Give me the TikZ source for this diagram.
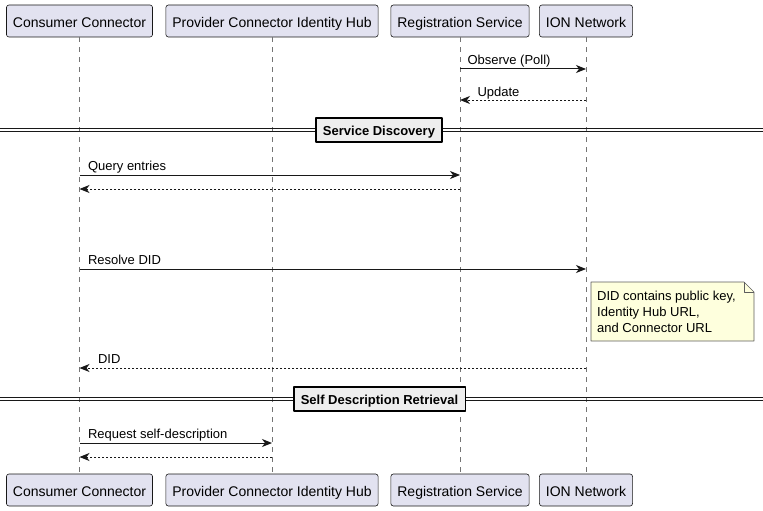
\documentclass[tikz,border=0pt]{standalone}
\usepackage{fontspec}
\setmainfont{Liberation Sans}
\usepackage{tikz}
\usetikzlibrary{arrows.meta}
\usetikzlibrary{positioning}
\definecolor{partfill}{HTML}{E2E2F0}
\definecolor{linecol}{HTML}{181818}
\definecolor{notefill}{HTML}{FEFFDD}
\definecolor{divfill}{HTML}{EEEEEE}

\begin{document}
\begin{tikzpicture}[line join=round,x=1pt,y=-1pt,
  >={Stealth[length=10pt,width=8pt,inset=3pt]},
  part/.style={draw=linecol,line width=0.6pt,fill=partfill,rounded corners=2.5pt,
    minimum height=32pt,inner xsep=6.5pt,text height=12.5pt,text depth=0pt,
    font=\fontsize{14}{16}\selectfont},
  lifeline/.style={draw=linecol!60,line width=0.6pt,dash pattern=on 5pt off 5pt},
  msg/.style={->,draw=linecol,line width=1pt},
  reply/.style={->,draw=linecol,line width=1pt,dash pattern=on 2pt off 2pt},
  msglabel/.style={anchor=base west,inner sep=0pt,font=\fontsize{13}{15}\selectfont},
  divline/.style={draw=linecol,line width=1pt},
  divbox/.style={draw=black,line width=1.5pt,fill=divfill,minimum height=24pt,
    inner xsep=7pt,text height=10.5pt,text depth=0.5pt,
    font=\fontsize{13}{15}\selectfont\bfseries}]
\useasboundingbox (0,0) rectangle (763,511);

% participants, top and bottom
\node[part] (cc)  at (79.5,21) {Consumer Connector};
\node[part] (pch) at (272,21)  {Provider Connector Identity Hub};
\node[part] (rs)  at (460,21)  {Registration Service};
\node[part] (ion) at (586,21)  {ION Network};
\node[part] (ccb)  at (79.5,490) {Consumer Connector};
\node[part] (pchb) at (272,490)  {Provider Connector Identity Hub};
\node[part] (rsb)  at (460,490)  {Registration Service};
\node[part] (ionb) at (586,490)  {ION Network};

% lifelines
\draw[lifeline] (cc) -- (ccb);
\draw[lifeline] (pch) -- (pchb);
\draw[lifeline] (rs) -- (rsb);
\draw[lifeline] (ion) -- (ionb);

% message rows
\coordinate (r1) at (0,69);
\coordinate (r2) at (0,100);
\coordinate (r3) at (0,175);
\coordinate (r4) at (0,189);
\coordinate (r5) at (0,269);
\coordinate (r6) at (0,368);
\coordinate (r7) at (0,443);
\coordinate (r8) at (0,457);

\draw[msg] (rs |- r1) -- (ion |- r1)
  node[msglabel,pos=0,xshift=7pt,yshift=4pt] {Observe (Poll)};
\draw[reply] (ion |- r2) -- (rs |- r2)
  node[msglabel,pos=1,xshift=17pt,yshift=4pt] {Update};

% divider
\draw[divline] (0,128.5) -- (763,128.5);
\draw[divline] (0,131.5) -- (763,131.5);
\node[divbox] (sdisc) at (379,130) {Service Discovery};

\draw[msg] (cc |- r3) -- (rs |- r3)
  node[msglabel,pos=0,xshift=8pt,yshift=5pt] {Query entries};
\draw[reply] (rs |- r4) -- (cc |- r4);

\draw[msg] (cc |- r5) -- (ion |- r5)
  node[msglabel,pos=0,xshift=8pt,yshift=5pt] {Resolve DID};

% note
\draw[draw=linecol!70,line width=0.6pt,fill=notefill]
  (591,282) -- (744,282) -- (754,292) -- (754,341) -- (591,341) -- cycle;
\draw[draw=linecol!70,line width=0.6pt] (744,282) -- (744,292) -- (754,292);
\node[anchor=north west,inner sep=0pt,align=left,font=\fontsize{13}{16}\selectfont]
  (didnote) at (597,290.5) {DID contains public key,\\Identity Hub URL,\\and Connector URL};

\draw[reply] (ion |- r6) -- (cc |- r6)
  node[msglabel,pos=1,xshift=18pt,yshift=5pt] {DID};

% divider
\draw[divline] (0,397.5) -- (763,397.5);
\draw[divline] (0,400.5) -- (763,400.5);
\node[divbox] (sdret) at (379.5,399) {Self Description Retrieval};

\draw[msg] (cc |- r7) -- (pch |- r7)
  node[msglabel,pos=0,xshift=8pt,yshift=5pt] {Request self-description};
\draw[reply] (pch |- r8) -- (cc |- r8);
\end{tikzpicture}
\end{document}
